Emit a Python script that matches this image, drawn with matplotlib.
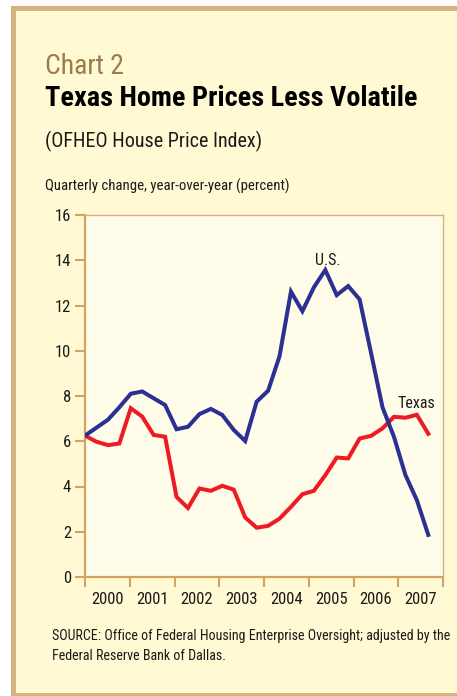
import matplotlib
matplotlib.use("Agg")
import matplotlib.pyplot as plt
from matplotlib.patches import Rectangle
import numpy as np

# Quarterly change, year-over-year (percent), 2000Q1 .. 2007Q3
us_change = [6.25, 6.6, 6.95, 7.5, 8.1, 8.2, 7.9, 7.6, 6.53, 6.64,
             7.2, 7.43, 7.16, 6.5, 6.01, 7.75, 8.23, 9.76, 12.61, 11.75,
             12.8, 13.57, 12.46, 12.86, 12.27, 9.9, 7.5, 6.2, 4.51, 3.4, 1.86]
texas_change = [6.25, 5.98, 5.83, 5.9, 7.46, 7.09, 6.28, 6.2, 3.54, 3.05,
                3.91, 3.81, 4.03, 3.86, 2.63, 2.18, 2.26, 2.58, 3.1, 3.66,
                3.81, 4.5, 5.28, 5.24, 6.12, 6.24, 6.57, 7.08, 7.04, 7.17, 6.33]
years = [2000, 2001, 2002, 2003, 2004, 2005, 2006, 2007]
y_ticks = [0, 2, 4, 6, 8, 10, 12, 14, 16]

plt.rcParams['font.family'] = ['Roboto Condensed', 'Liberation Sans Narrow', 'Liberation Sans']

TAN = '#d3b47f'
AXIS = '#d2a363'
BG = '#fff9d4'
PLOT_BG = '#fffde9'
BLUE = '#2b3192'
RED = '#ed1c24'

fig = plt.figure(figsize=(4.57, 6.96), dpi=100)
fig.patch.set_facecolor('white')

# cream panel with tan frame (open on the right, like the clipped original)
fig.patches.append(Rectangle((11 / 457, 0), 1.0, 690 / 696, transform=fig.transFigure,
                             facecolor=TAN, edgecolor='none', zorder=-2))
fig.patches.append(Rectangle((16 / 457, 3 / 696), 1.0, 682 / 696, transform=fig.transFigure,
                             facecolor=BG, edgecolor='none', zorder=-1))

# headings
fig.text(45 / 457, 1 - 74 / 696, 'Chart 2', fontsize=20, color='#9b7d4b')
fig.text(45 / 457, 1 - 106 / 696, 'Texas Home Prices Less Volatile', fontsize=20.3,
         fontweight='bold', color='black')
fig.text(45 / 457, 1 - 147 / 696, '(OFHEO House Price Index)', fontsize=14.5, color='#1a1a1a')
fig.text(45 / 457, 1 - 191 / 696, 'Quarterly change, year-over-year (percent)', fontsize=10.6,
         color='#1a1a1a')

ax = fig.add_axes([85 / 457, 1 - 577 / 696, 358 / 457, 362 / 696])
ax.set_facecolor(PLOT_BG)

# points sit slightly wider than the year grid in the source chart
qx = 2000 + np.arange(len(us_change)) * 0.2557
ax.plot(qx, us_change, color=BLUE, lw=2.9, solid_joinstyle='miter', zorder=3)
ax.plot(qx, texas_change, color=RED, lw=2.9, solid_joinstyle='miter', zorder=2)

ax.text(2005.43, 14.0, 'U.S.', fontsize=11.5, ha='center', va='center', color='#1a1a1a')
ax.text(2007.41, 7.65, 'Texas', fontsize=11.5, ha='center', va='center', color='#1a1a1a')

ax.set_xlim(2000, 2008)
ax.set_ylim(0, 16)
ax.set_yticks(y_ticks)
ax.set_xticks(range(2000, 2009))
ax.set_xticklabels([])
ax.set_xticks([y + 0.5 for y in years], minor=True)
ax.set_xticklabels([str(y) for y in years], minor=True)

ax.tick_params(axis='y', direction='out', length=7, width=1.5, color=AXIS, pad=3,
               labelsize=12, labelcolor='#1a1a1a')
ax.tick_params(axis='x', which='major', direction='out', length=7, width=1.5, color=AXIS)
ax.tick_params(axis='x', which='minor', length=0, pad=10.5, labelsize=12, labelcolor='#1a1a1a')

for side in ['left', 'bottom']:
    ax.spines[side].set_color(AXIS)
    ax.spines[side].set_linewidth(1.6)
for side in ['right', 'top']:
    ax.spines[side].set_color(TAN)
    ax.spines[side].set_linewidth(1.0)

# source note
fig.text(52 / 457, 1 - 640 / 696,
         'SOURCE: Office of Federal Housing Enterprise Oversight; adjusted by the',
         fontsize=10.1, color='#1a1a1a')
fig.text(52 / 457, 1 - 660 / 696, 'Federal Reserve Bank of Dallas.', fontsize=10.1,
         color='#1a1a1a')

fig.savefig('out.png', dpi=100, facecolor=fig.get_facecolor())
